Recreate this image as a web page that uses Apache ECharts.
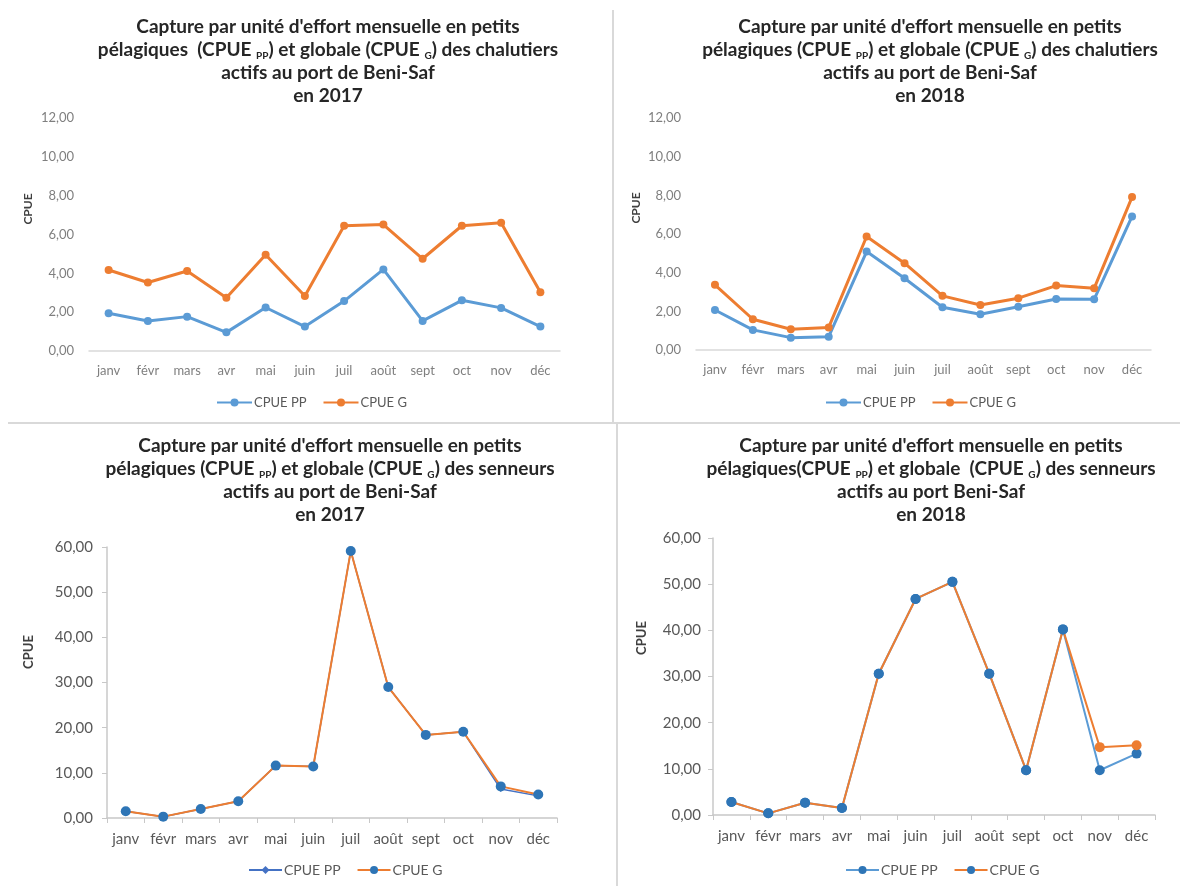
<!DOCTYPE html>
<html lang="fr">
<head>
<meta charset="utf-8">
<title>CPUE mensuelle — Beni-Saf 2017–2018</title>
<script src="https://cdn.jsdelivr.net/npm/echarts@6/dist/echarts.min.js"></script>
<style>
  html, body { margin: 0; padding: 0; background: #ffffff; }
  #chart { width: 1180px; height: 886px; }
</style>
</head>
<body>
<div id="chart"></div>
<script>
// Months (x-axis categories)
const months = ['janv', 'févr', 'mars', 'avr', 'mai', 'juin', 'juil', 'août', 'sept', 'oct', 'nov', 'déc'];

// Legend / series names
const namePP = 'CPUE PP';
const nameG = 'CPUE G';

// Chalutiers (trawlers) 2017
const trawl2017PP = [1.94, 1.55, 1.77, 0.96, 2.24, 1.26, 2.57, 4.20, 1.55, 2.61, 2.22, 1.26];
const trawl2017G  = [4.17, 3.53, 4.12, 2.74, 4.96, 2.83, 6.45, 6.51, 4.75, 6.45, 6.60, 3.03];

// Chalutiers (trawlers) 2018
const trawl2018PP = [2.07, 1.04, 0.64, 0.69, 5.09, 3.71, 2.21, 1.85, 2.24, 2.64, 2.62, 6.91];
const trawl2018G  = [3.37, 1.59, 1.07, 1.17, 5.87, 4.49, 2.80, 2.33, 2.68, 3.33, 3.19, 7.91];

// Senneurs (purse seiners) 2017
const seine2017PP = [1.50, 0.30, 2.00, 3.70, 11.60, 11.40, 59.10, 29.00, 18.40, 19.10, 6.40, 4.90];
const seine2017G  = [1.50, 0.30, 2.00, 3.70, 11.60, 11.40, 59.10, 29.00, 18.40, 19.10, 7.00, 5.20];

// Senneurs (purse seiners) 2018
const seine2018PP = [2.81, 0.36, 2.67, 1.51, 30.60, 46.80, 50.50, 30.60, 9.70, 40.20, 9.70, 13.30];
const seine2018G  = [2.81, 0.36, 2.67, 1.51, 30.60, 46.80, 50.50, 30.60, 9.70, 40.20, 14.70, 15.10];

// Y scales
const trawlMax = 12, trawlStep = 2;
const seineMax = 60, seineStep = 10;

// Panel titles (subscripts written as {s|..})
const titleTrawl2017 = "Capture par unité d'effort mensuelle en petits\npélagiques  (CPUE {s|PP}) et globale (CPUE {s|G}) des chalutiers\nactifs au port de Beni-Saf\nen 2017";
const titleTrawl2018 = "Capture par unité d'effort mensuelle en petits\npélagiques (CPUE {s|PP}) et globale (CPUE {s|G}) des chalutiers\nactifs au port de Beni-Saf\nen 2018";
const titleSeine2017 = "Capture par unité d'effort mensuelle en petits\npélagiques (CPUE {s|PP}) et globale (CPUE {s|G}) des senneurs\nactifs au port de Beni-Saf\nen 2017";
const titleSeine2018 = "Capture par unité d'effort mensuelle en petits\npélagiques(CPUE {s|PP}) et globale  (CPUE {s|G}) des senneurs\nactifs au port Beni-Saf\nen 2018";

// ---- styling ----
const FONT = 'Lato, "Open Sans", "Noto Sans", sans-serif';
const BLUE_LIGHT = '#5B9BD5';
const ORANGE = '#ED7D31';
const BLUE_ROYAL = '#4472C4';
const BLUE_MARK = '#2E75B6';
const GRID_LINE = '#d9d9d9';

const fmtComma = v => v.toFixed(2).replace('.', ',');

function makeTitle(text, cx, top) {
  return {
    text: text,
    left: cx,
    top: top,
    textAlign: 'center',
    padding: 0,
    textStyle: {
      fontFamily: FONT, fontSize: 19, fontWeight: 'bold', color: '#262626', lineHeight: 23,
      rich: {
        s: { fontFamily: FONT, fontSize: 10, fontWeight: 'bold', color: '#262626', lineHeight: 14, verticalAlign: 'bottom' }
      }
    }
  };
}

function makeLegend(prefix, left, top, itemWidth, fontSize) {
  return {
    data: [prefix + '|' + namePP, prefix + '|' + nameG],
    left: left, top: top,
    itemWidth: itemWidth, itemHeight: 10, itemGap: 16,
    formatter: n => n.split('|')[1],
    textStyle: { fontFamily: FONT, fontSize: fontSize, color: '#595959', padding: [0, 0, 0, -3] }
  };
}

function xAxisTop(gridIndex) {
  return {
    type: 'category', gridIndex, data: months, boundaryGap: true,
    axisLine: { show: true, lineStyle: { color: GRID_LINE, width: 1.5 } },
    axisTick: { show: false },
    axisLabel: { fontFamily: FONT, fontSize: 13, color: '#7f7f7f', margin: 13, interval: 0 },
    splitLine: { show: false }
  };
}
function yAxisTop(gridIndex) {
  return {
    type: 'value', gridIndex, min: 0, max: trawlMax, interval: trawlStep,
    axisLine: { show: false }, axisTick: { show: false },
    axisLabel: { fontFamily: FONT, fontSize: 13, color: '#7f7f7f', margin: 15, formatter: fmtComma },
    splitLine: { show: false }
  };
}
function xAxisBottom(gridIndex) {
  return {
    type: 'category', gridIndex, data: months, boundaryGap: true,
    axisLine: { show: true, lineStyle: { color: '#c8c8c8', width: 1.5 } },
    axisTick: { show: true, length: 5, lineStyle: { color: '#c8c8c8' } },
    axisLabel: { fontFamily: FONT, fontSize: 15, color: '#595959', margin: 14, interval: 0 },
    splitLine: { show: false }
  };
}
function yAxisBottom(gridIndex, labelMargin) {
  return {
    type: 'value', gridIndex, min: 0, max: seineMax, interval: seineStep,
    axisLine: { show: true, lineStyle: { color: '#c8c8c8', width: 1.5 } },
    axisTick: { show: true, length: 5, lineStyle: { color: '#c8c8c8' } },
    axisLabel: { fontFamily: FONT, fontSize: 15, color: '#595959', margin: labelMargin, formatter: fmtComma },
    splitLine: { show: false }
  };
}

function lineSeries(name, idx, data, lineColor, markColor, width, symbol, size) {
  return {
    type: 'line', name, xAxisIndex: idx, yAxisIndex: idx, data,
    symbol, symbolSize: size, showSymbol: true,
    lineStyle: { color: lineColor, width },
    itemStyle: { color: markColor, borderWidth: 0 },
    emphasis: { disabled: true }
  };
}

function axisTitle(x, y, size) {
  return {
    type: 'text', x, y, rotation: Math.PI / 2,
    style: { text: 'CPUE', fontFamily: FONT, fontSize: size, fontWeight: 'bold', fill: '#404040', align: 'center', verticalAlign: 'middle' }
  };
}

// Where the global series departs from the small-pelagic one, its own orange marker shows
const seine2018GPoints = seine2018G.map((v, i) => v !== seine2018PP[i] ? { value: v, itemStyle: { color: ORANGE } } : v);

const option = {
  animation: false,
  backgroundColor: '#ffffff',
  title: [
    makeTitle(titleTrawl2017, 328, 15),
    makeTitle(titleTrawl2018, 930, 15),
    makeTitle(titleSeine2017, 330, 434),
    makeTitle(titleSeine2018, 931, 434)
  ],
  legend: [
    makeLegend('tl', 211, 391, 35, 13),
    makeLegend('tr', 820, 391, 35, 13),
    makeLegend('bl', 243, 858, 33, 14),
    makeLegend('br', 840, 858, 33, 14)
  ],
  grid: [
    { left: 89,  top: 118, width: 471, height: 233 },
    { left: 696, top: 118, width: 455, height: 232 },
    { left: 107, top: 547, width: 450, height: 271 },
    { left: 713, top: 538, width: 442, height: 277 }
  ],
  xAxis: [xAxisTop(0), xAxisTop(1), xAxisBottom(2), xAxisBottom(3)],
  yAxis: [yAxisTop(0), yAxisTop(1), yAxisBottom(2, 14), yAxisBottom(3, 12)],
  series: [
    lineSeries('tl|' + namePP, 0, trawl2017PP, BLUE_LIGHT, BLUE_LIGHT, 3, 'circle', 8),
    lineSeries('tl|' + nameG,  0, trawl2017G,  ORANGE,     ORANGE,     3, 'circle', 8),
    lineSeries('tr|' + namePP, 1, trawl2018PP, BLUE_LIGHT, BLUE_LIGHT, 3, 'circle', 8),
    lineSeries('tr|' + nameG,  1, trawl2018G,  ORANGE,     ORANGE,     3, 'circle', 8),
    lineSeries('bl|' + namePP, 2, seine2017PP, BLUE_ROYAL, BLUE_ROYAL, 1.5, 'diamond', 6),
    lineSeries('bl|' + nameG,  2, seine2017G,  ORANGE,     BLUE_MARK,  2, 'circle', 10),
    lineSeries('br|' + namePP, 3, seine2018PP, BLUE_LIGHT, BLUE_MARK,  2, 'circle', 10),
    lineSeries('br|' + nameG,  3, seine2018GPoints, ORANGE, BLUE_MARK, 2, 'circle', 10)
  ],
  graphic: [
    // panel separators
    { type: 'line', shape: { x1: 613, y1: 10, x2: 613, y2: 422 }, style: { stroke: GRID_LINE, lineWidth: 2 } },
    { type: 'line', shape: { x1: 8, y1: 423, x2: 1180, y2: 423 }, style: { stroke: GRID_LINE, lineWidth: 2 } },
    { type: 'line', shape: { x1: 617, y1: 424, x2: 617, y2: 886 }, style: { stroke: GRID_LINE, lineWidth: 2 } },
    // y-axis titles
    axisTitle(28, 209, 12),
    axisTitle(636, 208, 12),
    axisTitle(29, 652, 13),
    axisTitle(642, 638, 13)
  ]
};

const chart = echarts.init(document.getElementById('chart'), null, { renderer: 'canvas' });
chart.setOption(option);
</script>
</body>
</html>
